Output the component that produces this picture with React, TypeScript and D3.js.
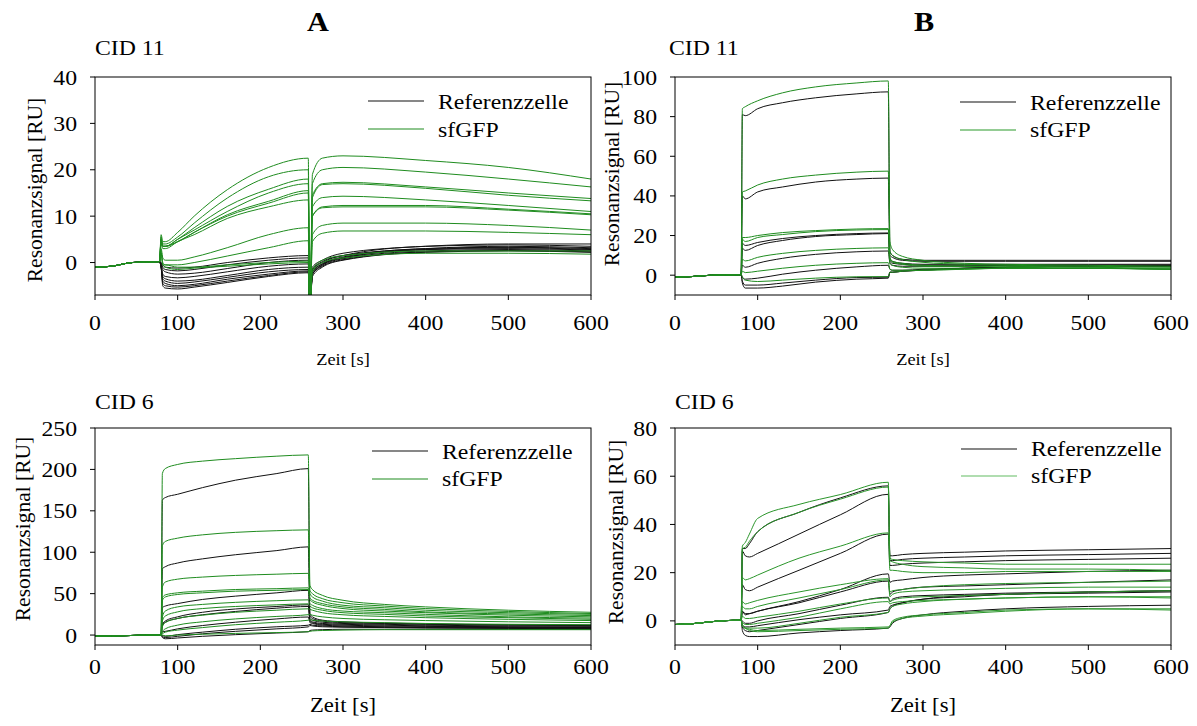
import React from 'react';
import * as d3 from 'd3';

// ---------- shared tick labels ----------
const xTicks = [0, 100, 200, 300, 400, 500, 600];
const yTicksA11 = [0, 10, 20, 30, 40];
const yTicksB11 = [0, 20, 40, 60, 80, 100];
const yTicksA6 = [0, 50, 100, 150, 200, 250];
const yTicksB6 = [0, 20, 40, 60, 80];

const legendLabels = ['Referenzzelle', 'sfGFP'];
const panelLetters = ['A', 'B'];
const xLabel = 'Zeit [s]';
const yLabel = 'Resonanzsignal [RU]';

// ---------- Panel A, CID 11 ----------
const timeA11 = [0, 20, 45, 78, 80, 82, 85, 100, 120, 160, 210, 258, 259.5, 260.5, 263, 275, 300, 400, 500, 600];
const baseA11 = [-1, -0.8, 0, 0.2];
const refA11 = [
  [0, -0.5, -1, -1.2, -1, 0, 1, 1.5, -8, -8, -1, 0.5, 2, 3.5, 4, 4],
  [0, -1, -1.5, -1.8, -1.5, -0.5, 0.5, 1, -8, -8, -1.5, 0.2, 1.5, 3.5, 3.8, 3.5],
  [-0.5, -1.5, -2, -2.5, -2.3, -1.3, 0, 0.5, -8, -8, -1.5, 0, 1.5, 3, 3.5, 3.2],
  [-0.5, -2.5, -3, -3.3, -3, -2, -0.8, -0.3, -8, -8, -2, -0.3, 1.2, 3, 3.3, 3],
  [-1, -3, -3.5, -4, -3.8, -2.8, -1.5, -1, -8, -8, -2, -0.3, 1, 2.8, 3.2, 2.8],
  [-1, -3.5, -4, -4.5, -4.2, -3.2, -2, -1.5, -8, -8, -2.5, -0.5, 1, 2.8, 3, 2.7],
  [-1, -4, -4.5, -5, -4.7, -3.6, -2.5, -1.8, -8, -8, -2.5, -0.6, 0.8, 2.5, 2.8, 2.5],
  [-1, -4.5, -5, -5.3, -5, -4, -2.8, -2, -8, -8, -2.5, -0.8, 0.6, 2.3, 2.6, 2.3],
  [-1, -5, -5.5, -5.7, -5.3, -4.3, -3, -2.2, -8, -8, -3, -1, 0.5, 2.2, 2.5, 2.2],
];
const gfpA11 = [
  [6, 4.5, 4.5, 6.5, 10, 15.7, 20.5, 22.5, -8, -8, 19, 22.5, 23, 22, 20.5, 18],
  [5.5, 4, 4, 5.5, 8.5, 13.9, 18.5, 20, -8, -8, 17, 20, 20.5, 19.5, 18, 16.3],
  [5, 3.5, 3.5, 5, 7.5, 12.1, 15.8, 18, -8, -8, 14.5, 17, 17.3, 16.3, 15, 13.8],
  [5, 3.5, 3.5, 5, 7, 11, 15, 17, -8, -8, 14, 16.8, 17, 16, 14.5, 13.3],
  [4.5, 3.5, 3.5, 4.5, 6.5, 10.3, 13.2, 15.5, -8, -8, 12, 14, 14.3, 13.5, 12.3, 11],
  [4.5, 3.5, 3.5, 4.5, 6.5, 10, 12.8, 15, -8, -8, 10, 12, 12.3, 12.3, 11.5, 10.5],
  [4, 3, 3, 4.5, 6, 9.5, 12, 13.5, -8, -8, 10, 11.8, 12, 12, 11.3, 10.3],
  [3, 1, 0.5, 0.5, 1.2, 3.2, 6, 7.5, -8, -8, 6, 8, 8.5, 8.5, 8, 7],
  [2.5, 0, -0.5, -0.5, 0, 1.4, 3.2, 4.7, -8, -8, 4.5, 6.3, 6.8, 6.8, 6.5, 6],
  [2, -0.5, -0.5, -1, -1, -0.5, 0, 0.3, -8, -8, -1.5, 0.5, 1.5, 2.5, 2.5, 2.5],
  [2, -0.5, -1, -1.5, -1.2, -0.8, -0.3, 0, -8, -8, -2, 0, 1, 2, 2, 1.8],
];

// ---------- Panel B, CID 11 ----------
const timeB11 = [0, 20, 45, 78, 80, 81.5, 85, 100, 130, 170, 220, 258, 260, 263, 275, 300, 350, 400, 500, 600];
const baseB11 = [-1, -0.7, 0, 0.2];
const refB11 = [
  [0.3, 81, 80.5, 84, 87, 89.5, 91.5, 92.5, 12, 10, 8, 7.5, 7.5, 7.5, 7.5, 7.5],
  [0.3, 40, 38.5, 42, 44.5, 47, 48.5, 49, 10, 9, 7.5, 7, 7, 7, 7, 7],
  [0.3, 16, 15, 16.5, 18.5, 20, 21, 21.3, 8, 7, 6, 5.5, 5.5, 5.5, 5.5, 5.5],
  [0.3, 13.5, 12.5, 15, 17.5, 19.5, 20.5, 21, 7, 6, 5.5, 5, 5, 5, 5, 5],
  [0.3, 5, 4, 6, 8.5, 10.5, 11.8, 12.2, 6, 5, 4.5, 4.5, 4.5, 5, 5, 5],
  [0.3, -1, -2, -1.5, 0.5, 2.5, 4.2, 5, 3, 2.5, 2.5, 3, 3.5, 4, 4.5, 4.5],
  [0.3, -3, -5, -5, -4, -2.5, -1.2, -1, 1.5, 1.5, 2, 2.5, 3.5, 4, 4.5, 4.5],
  [0.3, -4, -6.5, -6.5, -5.5, -3.5, -2, -1.5, 1.5, 1.5, 2, 2.5, 3.5, 4, 4.5, 4.5],
];
const gfpB11 = [
  [0.3, 84, 85, 88, 92, 95, 97, 98, 17, 13, 9.5, 7.5, 6, 5.5, 5, 4.5],
  [0.3, 42, 42.5, 45.5, 48.5, 50.5, 52, 52.5, 12, 10, 8, 6.5, 5.5, 5, 4.5, 4],
  [0.3, 19, 19, 20, 21.5, 22.5, 23.3, 23.5, 9, 7, 6, 5, 4.5, 4.5, 4, 3.5],
  [0.3, 18, 17, 19, 20.5, 22, 22.8, 23, 8, 6.5, 5.5, 4.5, 4.5, 4, 3.5, 3],
  [0.3, 8, 7.2, 9, 11, 12.5, 13.5, 13.8, 6, 5, 4, 3.5, 3.5, 3.5, 3.5, 3],
  [0.3, 2, 1.3, 2, 3.5, 5, 6, 6.3, 3, 2.5, 2.5, 2.5, 3, 3.5, 3.5, 3],
  [0.3, -1, -2.5, -3.2, -2.5, -1.5, -0.8, -0.7, 1.5, 1.5, 2, 2.5, 3, 3.5, 3.5, 3],
];

// ---------- Panel A, CID 6 ----------
const timeA6 = [0, 20, 45, 78, 80, 81.5, 85, 100, 130, 170, 220, 258, 260, 263, 275, 300, 350, 400, 500, 600];
const baseA6 = [-1.5, -1, -0.5, 0];
const refA6 = [
  [0, 163, 166, 170, 178, 187, 195, 201, 26, 22, 18, 16, 14.5, 13.5, 12.5, 12],
  [0, 80, 82.5, 87, 92, 97, 102, 106.5, 23, 20, 17, 15, 14, 13, 12, 11.5],
  [0, 33, 35, 38, 43, 47, 51, 54, 20, 18, 15.5, 14, 13, 12, 11, 10.5],
  [0, 13, 17, 22, 27.5, 31.5, 34.5, 36.5, 18, 16, 14, 13, 12, 11, 10, 9.5],
  [0, 12, 15.5, 20, 24.5, 28.5, 32.5, 34.5, 17, 15, 13, 12, 11, 10.5, 9.5, 9],
  [0, 4, 4.5, 7.5, 11.5, 15.5, 19.5, 21.8, 15, 14, 12, 11, 10, 9.5, 9, 8.5],
  [0, -0.5, -1.5, 0.5, 3.5, 7, 10, 11.9, 13, 12, 11, 10, 9.5, 9, 8.5, 8],
  [0, -2, -3, -1.5, 1.5, 4.5, 7.5, 9.9, 11.5, 11, 10, 9.5, 9, 8.5, 8, 7.5],
  [0, -3, -4.5, -3.5, -1.5, 0.5, 2.5, 4, 5.5, 6, 6.5, 7, 7, 7, 7, 7],
];
const gfpA6 = [
  [0, 195, 201, 206, 210, 213, 216, 217.5, 60, 55, 48, 42, 37, 34, 30, 27.5],
  [0, 108, 113, 117, 121, 124, 126, 127, 54, 50, 44, 39, 35, 32, 28.5, 26],
  [0, 58, 64, 67.5, 70, 72, 73.5, 74.5, 50, 46, 41, 36, 33, 30, 27, 25],
  [0, 45, 48.5, 51, 53, 55, 56, 57, 45, 42, 38, 34, 31, 28, 25.5, 23.5],
  [0, 42, 46, 49, 51, 53, 54, 55, 43, 40, 36, 32, 29, 27, 24, 22],
  [0, 22, 29, 34, 37, 39.5, 41.5, 42.5, 38, 36, 32, 29, 27, 25, 22, 20.5],
  [0, 17, 23, 28, 32, 34.5, 36.5, 37.7, 35, 33, 30, 27, 25, 23, 21, 19],
  [0, 10, 15, 20, 24, 27.5, 30, 31.7, 31, 30, 27, 24.5, 22.5, 21, 19, 17.5],
  [0, 4, 7.5, 12, 16, 19.5, 22.5, 24.6, 25, 24, 22, 20, 18.5, 17.5, 16, 15],
  [0, 1.5, 3.5, 6, 9, 12.5, 15.5, 17.9, 18.5, 18, 17, 16, 15, 14, 13, 12.5],
  [0, 0, -1, 0, 1, 2, 3, 4, 4.5, 5, 5.5, 6, 6.5, 6.5, 6.5, 6.5],
];

// ---------- Panel B, CID 6 ----------
const timeB6 = [0, 20, 45, 78, 80, 81.5, 85, 90, 100, 150, 200, 258, 260, 263, 275, 300, 350, 400, 500, 600];
const baseB6 = [-1.5, -1.2, -0.3, 0.3];
const refB6 = [
  [0.3, 30, 30, 32, 37, 45, 51, 56, 27, 27, 27.5, 28, 28.5, 29, 29.5, 30],
  [0.3, 29, 27, 26.5, 28, 36, 44, 52.5, 25, 25, 25.5, 26, 26.5, 27, 27.5, 28],
  [0.3, 15, 13, 12.5, 14, 21, 28, 36, 23, 23, 23.5, 24, 24.5, 25, 25.5, 26],
  [0.3, 4, 2.5, 3, 4, 8, 13, 19.5, 16, 16.5, 17, 18, 19, 19.5, 20.5, 21],
  [0.3, 4, 3, 3, 4, 7.5, 12, 16.5, 11, 12, 13, 14, 14.5, 15, 16, 17],
  [0.3, 0, -1, -1, 0, 3, 6.5, 9.8, 8, 9, 10, 10.5, 11, 11.5, 12, 12.5],
  [0.3, -1.5, -2.5, -2.5, -2, 0.5, 2.5, 4.5, 6, 6.5, 7.5, 9, 10, 11, 11.5, 12],
  [0.3, -2.5, -4, -4.5, -4, -1.5, 1, 3.5, 5, 6, 7.5, 9, 10.5, 11, 12, 12.5],
  [0.3, -4, -6, -6.5, -6.5, -5, -4, -3, -2.5, -1, 1, 2.5, 4, 5, 6, 6.5],
];
const gfpB6 = [
  [0.3, 31, 32.5, 36, 42.5, 48.3, 52.4, 57.5, 26, 25.5, 25, 24.5, 24, 23.5, 23.5, 23.5],
  [0.3, 30, 30.5, 33, 37, 45, 50.5, 55.5, 25, 24.5, 23.5, 22.5, 22, 21.5, 21.5, 21],
  [0.3, 18, 17, 17.5, 19, 26, 31, 36.5, 21, 21, 20.5, 20, 20, 20.5, 20.5, 20.5],
  [0.3, 8, 7, 7.5, 8.5, 12, 15, 17.5, 12, 12.5, 13, 14, 15, 15.5, 16, 16.5],
  [0.3, 6, 5, 5, 6, 9.5, 13, 17, 10, 11, 12, 12.5, 13, 13.5, 14, 14],
  [0.3, 2, 1, 1, 1.5, 4, 7, 9.5, 8, 8.5, 9.5, 10, 10.5, 11, 12, 12.5],
  [0.3, -0.5, -1.5, -1.5, -1, 1.5, 5, 8, 7, 7.5, 8, 8.5, 9, 9.5, 10, 10],
  [0.3, -2, -3, -3, -3, -1, 1.5, 3.5, 5, 6, 7, 8, 9, 9.5, 10, 9.5],
  [0.3, -2, -3, -3.5, -4, -3.5, -3, -2.5, -2, 0, 1.5, 2.5, 3.5, 4.5, 5, 5],
  [0.3, -2, -3, -4, -4.5, -4, -3.5, -3, -2, -0.5, 1, 2, 3, 4, 5, 4.5],
];

// ---------- layout ----------
const FONT = '"Liberation Serif", "Times New Roman", serif';
const SX = 1.08;

type PanelCfg = {
  id: string;
  title: string;
  left: number; right: number; top: number; bottom: number;
  domain: [number, number];
  yTicks: number[];
  times: number[];
  base: number[];
  refs: number[][];
  gfps: number[][];
  titleX: number; titleY: number;
  xTickY: number; xLabelY: number; xLabelSize: number;
  yLabelX: number; yLabelY: number;
  legX1: number; legX2: number; legTX: number; legY: number[]; legTextY: number[];
  green: string; legendGreen: string;
};

const panels: PanelCfg[] = [
  {
    id: 'a11', title: 'CID 11', left: 95, right: 591, top: 77, bottom: 295, domain: [-7, 40], yTicks: yTicksA11,
    times: timeA11, base: baseA11, refs: refA11, gfps: gfpA11,
    titleX: 95, titleY: 55, xTickY: 330, xLabelY: 365, xLabelSize: 17,
    yLabelX: 42, yLabelY: 190,
    legX1: 368, legX2: 424, legTX: 438, legY: [101, 129], legTextY: [109, 137],
    green: '#1f8c1f', legendGreen: '#1f8c1f',
  },
  {
    id: 'b11', title: 'CID 11', left: 675, right: 1171, top: 77, bottom: 295, domain: [-10, 100], yTicks: yTicksB11,
    times: timeB11, base: baseB11, refs: refB11, gfps: gfpB11,
    titleX: 669, titleY: 55, xTickY: 330, xLabelY: 365, xLabelSize: 17,
    yLabelX: 619, yLabelY: 174,
    legX1: 960, legX2: 1016, legTX: 1030, legY: [102, 130], legTextY: [110, 137],
    green: '#1f8c1f', legendGreen: '#2a9a2a',
  },
  {
    id: 'a6', title: 'CID 6', left: 95, right: 591, top: 428, bottom: 645, domain: [-12, 250], yTicks: yTicksA6,
    times: timeA6, base: baseA6, refs: refA6, gfps: gfpA6,
    titleX: 95, titleY: 409, xTickY: 674, xLabelY: 712, xLabelSize: 21,
    yLabelX: 30, yLabelY: 529,
    legX1: 372, legX2: 428, legTX: 442, legY: [451, 479], legTextY: [459, 486],
    green: '#1f8c1f', legendGreen: '#1f8c1f',
  },
  {
    id: 'b6', title: 'CID 6', left: 675, right: 1171, top: 428, bottom: 645, domain: [-10, 80], yTicks: yTicksB6,
    times: timeB6, base: baseB6, refs: refB6, gfps: gfpB6,
    titleX: 675, titleY: 409, xTickY: 674, xLabelY: 712, xLabelSize: 21,
    yLabelX: 623, yLabelY: 532,
    legX1: 961, legX2: 1017, legTX: 1031, legY: [449, 476], legTextY: [456, 483],
    green: '#2b962b', legendGreen: '#62bb62',
  },
];

function T({ x, y, size, anchor = 'start', weight = 'normal', children }: any) {
  return (
    <text
      transform={`translate(${x},${y}) scale(${SX},1)`}
      fontFamily={FONT}
      fontSize={size}
      fontWeight={weight}
      textAnchor={anchor}
      fill="#000"
    >
      {children}
    </text>
  );
}

function Panel({ p }: { p: PanelCfg }) {
  const x = d3.scaleLinear().domain([0, 600]).range([p.left, p.right]);
  const y = d3.scaleLinear().domain(p.domain).range([p.bottom, p.top]);
  const line = d3
    .line<number>()
    .x((_, i) => x(p.times[i]))
    .y((d) => y(d))
    .curve(d3.curveMonotoneX);
  const clipId = `clip-${p.id}`;
  return (
    <g>
      <defs>
        <clipPath id={clipId}>
          <rect x={p.left} y={p.top} width={p.right - p.left} height={p.bottom - p.top} />
        </clipPath>
      </defs>
      <g clipPath={`url(#${clipId})`} fill="none" strokeWidth={1}>
        {p.refs.map((c, i) => (
          <path key={'r' + i} d={line([...p.base, ...c]) || ''} stroke="#111" />
        ))}
        {p.gfps.map((c, i) => (
          <path key={'g' + i} d={line([...p.base, ...c]) || ''} stroke={p.green} />
        ))}
      </g>
      <rect x={p.left} y={p.top} width={p.right - p.left} height={p.bottom - p.top} fill="none" stroke="#000" strokeWidth={1} />
      {xTicks.map((t) => (
        <g key={'x' + t}>
          <line x1={x(t)} x2={x(t)} y1={p.bottom} y2={p.bottom + 5} stroke="#000" />
          <T x={x(t)} y={p.xTickY} size={22} anchor="middle">{t}</T>
        </g>
      ))}
      {p.yTicks.map((t) => (
        <g key={'y' + t}>
          <line x1={p.left - 5} x2={p.left} y1={y(t)} y2={y(t)} stroke="#000" />
          <T x={p.left - 18} y={y(t) + 7.5} size={22} anchor="end">{t}</T>
        </g>
      ))}
      <T x={(p.left + p.right) / 2} y={p.xLabelY} size={p.xLabelSize} anchor="middle">{xLabel}</T>
      <text
        transform={`translate(${p.yLabelX},${p.yLabelY}) rotate(-90)`}
        fontFamily={FONT}
        fontSize={21.5}
        textAnchor="middle"
        fill="#000"
      >
        {yLabel}
      </text>
      <T x={p.titleX} y={p.titleY} size={22}>{p.title}</T>
      {legendLabels.map((lab, i) => (
        <g key={lab}>
          <line x1={p.legX1} x2={p.legX2} y1={p.legY[i]} y2={p.legY[i]} stroke={i === 0 ? '#111' : p.legendGreen} strokeWidth={1.2} />
          <T x={p.legTX} y={p.legTextY[i]} size={22}>{lab}</T>
        </g>
      ))}
    </g>
  );
}

export default function App() {
  return (
    <svg width={1197} height={726} style={{ display: 'block', position: 'absolute', left: 0, top: 0, background: '#fff' }}>
      <rect width={1197} height={726} fill="#fff" />
      <T x={318} y={31} size={28} anchor="middle" weight="bold">{panelLetters[0]}</T>
      <T x={924} y={31} size={28} anchor="middle" weight="bold">{panelLetters[1]}</T>
      {panels.map((p) => (
        <Panel key={p.id} p={p} />
      ))}
    </svg>
  );
}
